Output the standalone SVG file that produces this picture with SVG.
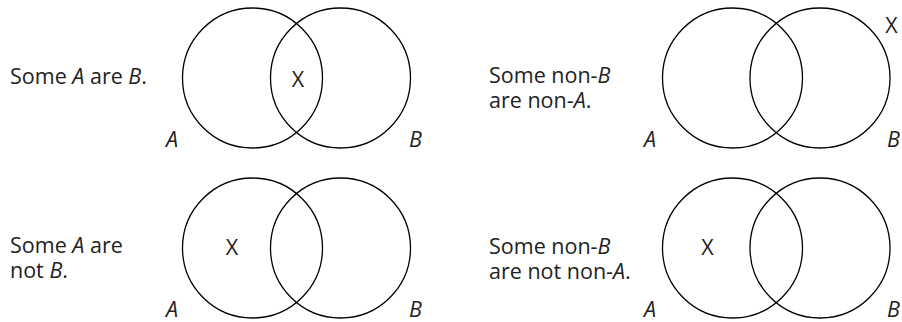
<svg xmlns="http://www.w3.org/2000/svg" width="902" height="322" viewBox="0 0 902 322">
<style>
  .c { fill: none; stroke: #000; stroke-width: 1.3; }
  text { font-family: "Open Sans", "Noto Sans", "Liberation Sans", sans-serif; font-size: 21.5px; fill: #222; }
  .i { font-style: italic; }
  .x { text-anchor: middle; }
</style>
<rect width="902" height="322" fill="#fff"/>
<g id="panel-some-a-are-b">
  <text x="10" y="84">Some <tspan class="i">A</tspan> are <tspan class="i">B</tspan>.</text>
  <circle class="c" cx="252.5" cy="78" r="70"/>
  <circle class="c" cx="340.5" cy="78" r="70"/>
  <text class="x" x="298" y="87">X</text>
  <text class="i" x="166" y="147">A</text>
  <text class="i" x="409" y="147">B</text>
</g>
<g id="panel-some-nonb-are-nona">
  <text x="489" y="83">Some non-<tspan class="i">B</tspan></text>
  <text x="489" y="108">are non-<tspan class="i">A</tspan>.</text>
  <circle class="c" cx="732.5" cy="78" r="70"/>
  <circle class="c" cx="820" cy="78" r="70"/>
  <text class="x" x="891.5" y="33">X</text>
  <text class="i" x="644" y="147">A</text>
  <text class="i" x="887" y="147">B</text>
</g>
<g id="panel-some-a-are-not-b">
  <text x="10" y="253">Some <tspan class="i">A</tspan> are</text>
  <text x="10" y="278">not <tspan class="i">B</tspan>.</text>
  <circle class="c" cx="252.5" cy="248" r="70"/>
  <circle class="c" cx="340.5" cy="248" r="70"/>
  <text class="x" x="232" y="255">X</text>
  <text class="i" x="166" y="317">A</text>
  <text class="i" x="409" y="317">B</text>
</g>
<g id="panel-some-nonb-are-not-nona">
  <text x="489" y="254">Some non-<tspan class="i">B</tspan></text>
  <text x="489" y="279">are not non-<tspan class="i">A</tspan>.</text>
  <circle class="c" cx="732.5" cy="248" r="70"/>
  <circle class="c" cx="820" cy="248" r="70"/>
  <text class="x" x="707.5" y="255">X</text>
  <text class="i" x="644" y="317">A</text>
  <text class="i" x="887" y="317">B</text>
</g>
<g id="connectors"></g>
</svg>
